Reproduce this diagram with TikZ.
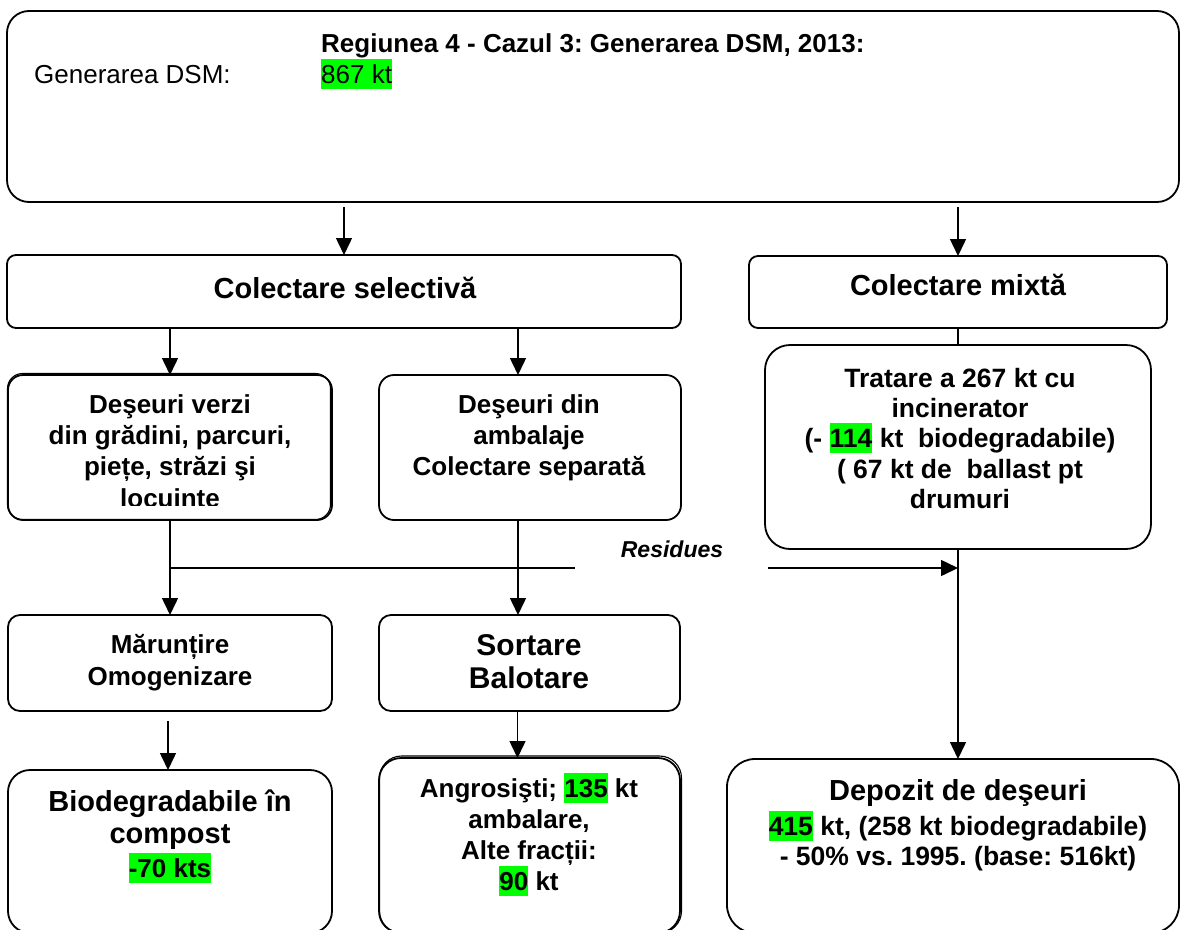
\documentclass[tikz,border=0pt]{standalone}
\usepackage{fontspec}
\setmainfont{Liberation Sans}
\usetikzlibrary{arrows.meta}
\definecolor{hlgreen}{RGB}{0,255,0}
\newcommand\hlg[1]{{\setlength\fboxsep{0pt}\colorbox{hlgreen}{\rule[-0.22em]{0pt}{1.14em}#1}}}
\newcommand\fs[1]{\fontsize{#1}{#1}\selectfont}
\frenchspacing
\tikzset{
  box/.style={draw, line width=1.8pt, inner sep=0pt, outer sep=0pt},
  boxb/.style={draw, line width=1.1pt, inner sep=0pt, outer sep=0pt},
  arr/.style={line width=1.5pt, -{Triangle[length=17pt,width=16pt]}},
  ln/.style={line width=1.5pt},
  tb/.style={inner sep=0pt, anchor=base, font=\bfseries\fs{26}},
  tr/.style={inner sep=0pt, anchor=base west, font=\fs{26}},
}
\begin{document}
\begin{tikzpicture}[x=1pt,y=-1pt]
\clip (0,0) rectangle (1180,929);
\fill[white] (0,0) rectangle (1180,929);
% boxes
\node[box, rounded corners=22pt, minimum width=1172pt, minimum height=191pt] (top) at (593,106.5) {};
\node[box, rounded corners=9pt, minimum width=674pt, minimum height=73pt] (sel) at (344,291.5) {};
\node[box, rounded corners=9pt, minimum width=418pt, minimum height=72pt] (mix) at (958,292) {};
\node[boxb, rounded corners=15pt, minimum width=323pt, minimum height=146pt] (verziB) at (169,446.5) {};
\node[box, rounded corners=15pt, minimum width=324pt, minimum height=145pt] (verzi) at (170,447.5) {};
\node[box, rounded corners=15pt, minimum width=302pt, minimum height=145pt] (amb) at (530,447.5) {};
\node[box, rounded corners=25pt, minimum width=386pt, minimum height=204pt] (trat) at (958,447) {};
\node[box, rounded corners=12pt, minimum width=324pt, minimum height=96pt] (mar) at (170,663) {};
\node[box, rounded corners=12pt, minimum width=301pt, minimum height=96pt] (sort) at (529.5,663) {};
\node[box, rounded corners=22pt, minimum width=324pt, minimum height=163pt] (bio) at (170,851.5) {};
\node[boxb, rounded corners=22pt, minimum width=302pt, minimum height=177pt] (angroB) at (530.5,844.5) {};
\node[box, rounded corners=22pt, minimum width=301pt, minimum height=175pt] (angro) at (529.5,845.5) {};
\node[box, rounded corners=28pt, minimum width=452pt, minimum height=174pt] (dep) at (953,846) {};
% connectors
\draw[arr] ([yshift=-5pt]top.south -| sel.north) -- (sel.north);
\draw[arr] ([yshift=-5pt]top.south -| mix.north) -- (mix.north);
\draw[arr] (sel.south -| verzi.north) -- (verzi.north);
\draw[arr] ([xshift=-12pt]sel.south -| amb.north) -- ([xshift=-12pt]amb.north);
\draw[ln] (mix.south) -- (mix.south |- trat.north);
\draw[arr] (verzi.south) -- (mar.north);
\coordinate (rs) at (575,568);
\coordinate (re) at (768,568);
\draw[ln] (verzi.south |- rs) -- (rs);
\draw[arr] ([xshift=-12pt]amb.south) -- ([xshift=-12pt]amb.south |- sort.north);
\draw[arr] (re) -- (re -| trat.south);
\draw[arr] (trat.south) -- (trat.south |- dep.north);
\draw[arr] ([yshift=-10pt,xshift=-2pt]mar.south) -- ([xshift=-2pt]mar.south |- bio.north);
\draw[arr] ([xshift=-12pt]sort.south) -- ([xshift=-12pt]sort.south |- angro.north);
% texts
\node[tb, anchor=base west] (t1) at (321,52) {Regiunea 4 - Cazul 3: Generarea DSM, 2013:};
\node[tr] (t2) at (34,83) {Generarea DSM:};
\node[tr] (t3) at (321,83) {\hlg{867 kt}};
\node[tb, font=\bfseries\fs{29}] (c1) at (345,298) {Colectare selectivă};
\node[tb, font=\bfseries\fs{29}] (c2) at (958,295) {Colectare mixtă};
\node[tb] (v1) at (170,413) {Deşeuri verzi};
\node[tb] (v2) at (170,444) {din grădini, parcuri,};
\node[tb] (v3) at (170,475) {piețe, străzi şi};
\begin{scope}
\clip (0,0) rectangle (1180,505);
\node[tb] (v4) at (170,507) {locuinte};
\end{scope}
\node[tb] (a1) at (529,413) {Deşeuri din};
\node[tb] (a2) at (529,444) {ambalaje};
\node[tb] (a3) at (529,475) {Colectare separată};
\node[tb, font=\bfseries\fs{26.5}] (r1) at (960,387) {Tratare a 267 kt cu};
\node[tb, font=\bfseries\fs{26.5}] (r2) at (960,417) {incinerator};
\node[tb, font=\bfseries\fs{26.5}] (r3) at (960,447) {(- \hlg{114} kt~ biodegradabile)};
\node[tb, font=\bfseries\fs{26.5}] (r4) at (960,478) {( 67 kt de~ ballast pt};
\node[tb, font=\bfseries\fs{26.5}] (r5) at (960,508) {drumuri};
\node[tb, font=\bfseries\itshape\fs{23}] (res) at (672,557) {Residues};
\node[tb] (m1) at (170,653) {Mărunțire};
\node[tb] (m2) at (170,685) {Omogenizare};
\node[tb, font=\bfseries\fs{30}] (s1) at (529,655) {Sortare};
\node[tb, font=\bfseries\fs{30}] (s2) at (529,688) {Balotare};
\node[tb, font=\bfseries\fs{29}] (b1) at (170,811) {Biodegradabile în};
\node[tb, font=\bfseries\fs{29}] (b2) at (170,843) {compost};
\node[tb] (b3) at (170,877) {\hlg{-70 kts}};
\node[tb] (g1) at (529,797) {Angrosişti; \hlg{135} kt};
\node[tb] (g2) at (529,828) {ambalare,};
\node[tb] (g3) at (529,859) {Alte fracții:};
\node[tb] (g4) at (529,890) {\hlg{90} kt};
\node[tb, font=\bfseries\fs{29}] (d1) at (958,800) {Depozit de deşeuri};
\node[tb, font=\bfseries\fs{26.5}] (d2) at (958,835) {\hlg{415} kt, (258 kt biodegradabile)};
\node[tb, font=\bfseries\fs{26.5}] (d3) at (958,865) {- 50\% vs. 1995. (base: 516kt)};
\end{tikzpicture}
\end{document}
